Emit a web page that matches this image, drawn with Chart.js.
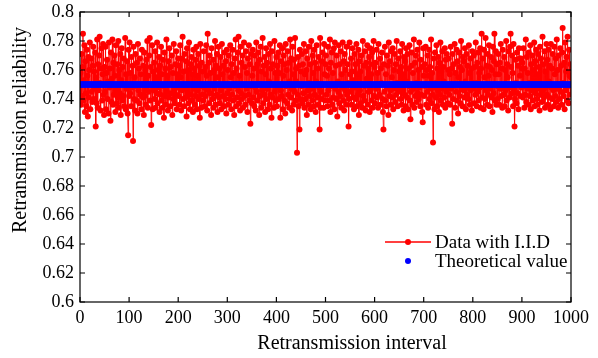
<!DOCTYPE html>
<html>
<head>
<meta charset="utf-8">
<script src="https://cdn.jsdelivr.net/npm/chart.js@4/dist/chart.umd.min.js"></script>
<style>
  html, body { margin: 0; padding: 0; background: #fff; }
  #wrap { width: 598px; height: 358px; }
</style>
</head>
<body>
<div id="wrap"><canvas id="chart"></canvas></div>
<script>
// Valores (em milésimos: 752 = 0.752), intervalos 1..1000
const reliabilityMilli = [
  758,736,771,742,762,785,739,753,777,731,766,744,735,774,756,728,769,741,760,779,
  733,750,768,745,738,763,776,740,759,747,772,721,755,737,781,734,764,746,770,783,
  751,732,761,775,739,757,778,743,729,762,
  745,776,733,758,767,740,752,730,779,748,761,725,772,738,754,781,736,765,743,770,
  756,731,777,746,737,764,741,780,734,760,744,771,729,753,775,739,762,742,768,735,
  750,782,733,757,747,766,730,715,774,742,
  779,744,758,735,769,748,763,711,776,740,755,732,771,749,739,765,730,778,746,761,
  737,768,743,757,733,774,750,741,763,729,772,742,760,736,767,747,780,734,756,745,
  770,782,739,762,722,749,777,733,759,746,
  765,740,773,734,755,744,779,737,760,748,769,731,763,743,776,739,757,734,767,749,
  727,772,742,761,736,781,745,756,732,766,741,775,750,735,762,744,770,729,758,740,
  778,747,737,764,743,773,733,757,748,768,
  742,763,736,777,755,732,768,746,783,740,759,735,771,749,741,766,728,775,744,760,
  737,779,750,733,764,743,769,739,757,731,774,747,761,736,767,742,776,733,756,746,
  771,740,763,727,778,749,734,765,743,759,
  739,773,748,735,762,742,777,756,732,785,746,765,737,770,744,758,729,775,750,740,
  767,734,760,747,780,736,763,743,771,731,755,776,741,761,737,769,746,733,778,757,
  742,763,735,772,749,740,766,730,774,744,
  760,736,770,747,740,777,755,733,764,743,774,739,758,729,768,749,781,735,761,741,
  772,746,783,737,756,732,776,744,765,740,770,734,750,779,742,762,736,773,747,758,
  731,768,743,777,739,764,723,749,771,737,
  756,774,741,761,735,770,748,732,779,745,764,739,772,750,729,767,742,776,734,759,
  746,782,737,763,743,769,731,757,775,740,765,747,733,771,752,736,778,743,761,727,
  773,741,764,750,734,780,745,758,739,769,
  735,763,748,772,740,758,777,727,746,766,742,775,733,756,770,739,764,730,778,749,
  760,737,773,743,765,734,752,781,741,768,747,732,776,757,736,767,745,782,739,761,
  752,703,743,769,735,763,719,774,740,759,
  749,771,737,764,744,778,734,757,740,773,760,729,768,746,736,776,751,742,764,733,
  780,747,739,770,758,735,774,743,765,731,752,777,741,761,736,769,748,719,782,734,
  745,766,740,772,750,734,778,757,739,764,
  770,743,756,735,776,746,761,739,781,731,765,749,772,736,758,741,775,733,779,747,
  763,740,770,728,752,745,777,737,764,742,773,734,757,748,779,739,766,732,771,746,
  760,736,776,743,764,751,721,740,779,757,
  745,768,736,759,775,741,753,733,771,748,764,740,778,735,757,743,774,729,766,746,
  759,737,770,750,734,780,742,763,739,773,749,732,765,754,777,736,761,745,769,731,
  775,747,757,739,772,734,764,780,742,762,
  737,765,747,774,741,758,734,778,750,743,768,736,761,751,772,740,731,719,764,745,
  776,739,757,735,770,748,763,729,779,742,766,746,736,773,755,741,775,733,760,747,
  771,738,764,743,780,751,735,768,745,759,
  748,773,740,762,736,778,746,757,732,769,743,766,735,775,752,741,771,733,761,749,
  777,739,726,745,763,772,736,758,747,781,734,765,742,770,751,738,774,744,760,740,
  779,748,735,767,743,762,731,724,775,756,
  742,764,749,776,736,760,745,770,734,756,774,740,762,747,781,737,758,743,710,768,
  748,733,772,751,741,777,735,761,746,769,731,765,743,779,739,759,747,773,736,762,
  752,741,775,734,767,745,771,748,737,760,
  768,743,757,736,776,747,761,723,771,740,764,749,778,734,758,745,774,739,766,730,
  755,772,742,762,737,780,748,760,735,769,746,766,741,775,752,733,771,743,763,748,
  740,777,758,736,768,746,761,732,773,751,
  747,770,737,762,743,779,751,735,765,745,772,739,758,748,775,734,761,785,741,768,
  749,733,774,755,740,782,746,763,736,771,743,756,777,735,762,747,769,741,760,731,
  776,744,766,785,739,757,773,736,764,749,
  740,771,757,736,765,747,778,742,761,734,774,749,743,769,735,760,746,780,739,764,
  755,732,773,748,741,776,785,762,744,770,758,735,778,747,721,740,767,751,737,772,
  744,763,733,775,768,756,742,768,748,761,
  765,741,775,749,734,761,743,781,738,769,747,758,736,772,751,742,777,733,764,746,
  770,739,760,748,779,735,766,744,774,740,757,736,771,747,762,732,776,743,768,750,
  738,783,746,764,741,773,734,759,748,778,
  743,767,736,774,752,741,763,733,778,748,761,740,771,746,735,776,757,742,768,738,
  781,747,760,734,770,749,740,775,745,763,736,772,789,751,742,765,733,779,746,759,
  769,739,783,749,737,774,756,743,764,755
];
const theoreticalValue = 0.75;
const xTicks = [0, 100, 200, 300, 400, 500, 600, 700, 800, 900, 1000];
const yTicks = [0.6, 0.62, 0.64, 0.66, 0.68, 0.7, 0.72, 0.74, 0.76, 0.78, 0.8];

const FONT = 'Liberation Serif, "Times New Roman", serif';

const dataPoints = reliabilityMilli.map((v, i) => ({ x: i + 1, y: v / 1000 }));
const theoryPoints = reliabilityMilli.map((v, i) => ({ x: i + 1, y: theoreticalValue }));

// Caixa, marcas internas, títulos dos eixos e legenda
const framePlugin = {
  id: 'frame',
  afterDraw(chart) {
    const c = chart.ctx;
    const a = chart.chartArea;
    const xs = chart.scales.x, ys = chart.scales.y;
    c.save();
    c.strokeStyle = '#000';
    c.lineWidth = 1.2;
    c.strokeRect(a.left, a.top, a.right - a.left, a.bottom - a.top);
    c.beginPath();
    xTicks.forEach(t => {
      const px = xs.getPixelForValue(t);
      c.moveTo(px, a.bottom); c.lineTo(px, a.bottom - 5);
      c.moveTo(px, a.top); c.lineTo(px, a.top + 5);
    });
    yTicks.forEach(t => {
      const py = ys.getPixelForValue(t);
      c.moveTo(a.left, py); c.lineTo(a.left + 5, py);
      c.moveTo(a.right, py); c.lineTo(a.right - 5, py);
    });
    c.stroke();

    // títulos
    c.fillStyle = '#000';
    c.font = '20px ' + FONT;
    c.textAlign = 'center';
    c.textBaseline = 'middle';
    c.fillText('Retransmission interval', 352, 344);
    c.save();
    c.translate(21, 130);
    c.rotate(-Math.PI / 2);
    c.fillText('Retransmission reliability', 0, 0);
    c.restore();

    // legenda
    const ds = chart.data.datasets;
    c.font = '19px ' + FONT;
    c.textAlign = 'left';
    c.strokeStyle = ds[1].borderColor;
    c.lineWidth = 1.5;
    c.beginPath(); c.moveTo(385, 242); c.lineTo(431, 242); c.stroke();
    c.fillStyle = ds[1].backgroundColor;
    c.beginPath(); c.arc(408, 242, 3, 0, Math.PI * 2); c.fill();
    c.fillStyle = ds[0].backgroundColor;
    c.beginPath(); c.arc(408, 261, 3, 0, Math.PI * 2); c.fill();
    c.fillStyle = '#000';
    c.fillText(ds[1].label, 435, 243);
    c.fillText(ds[0].label, 435, 262);
    c.restore();
  }
};

new Chart(document.getElementById('chart'), {
  type: 'line',
  data: {
    datasets: [
      {
        label: 'Theoretical value',
        data: theoryPoints,
        showLine: false,
        borderColor: '#0000ff',
        backgroundColor: '#0000ff',
        pointRadius: 3,
        pointBorderWidth: 0,
        order: 0
      },
      {
        label: 'Data with I.I.D',
        data: dataPoints,
        borderColor: '#ff0000',
        backgroundColor: '#ff0000',
        borderWidth: 0.9,
        pointRadius: 3,
        pointBorderWidth: 0,
        tension: 0,
        order: 1
      }
    ]
  },
  options: {
    responsive: true,
    maintainAspectRatio: false,
    animation: false,
    events: [],
    layout: { padding: { top: 12, right: 27, left: 0, bottom: 0 } },
    plugins: { legend: { display: false }, tooltip: { enabled: false } },
    scales: {
      x: {
        type: 'linear',
        min: 0,
        max: 1000,
        afterBuildTicks: s => { s.ticks = xTicks.map(v => ({ value: v })); },
        afterFit: s => { s.height = 56; s.paddingLeft = 0; s.paddingRight = 0; },
        grid: { display: false, drawTicks: false },
        border: { display: false },
        ticks: {
          color: '#000',
          font: { family: FONT, size: 18 },
          padding: 5,
          maxRotation: 0,
          callback: v => String(v)
        }
      },
      y: {
        min: 0.6,
        max: 0.8,
        afterBuildTicks: s => { s.ticks = yTicks.map(v => ({ value: v })); },
        afterFit: s => { s.width = 80; s.paddingTop = 0; s.paddingBottom = 0; },
        grid: { display: false, drawTicks: false },
        border: { display: false },
        ticks: {
          color: '#000',
          font: { family: FONT, size: 18 },
          padding: 6,
          callback: v => String(Number(v.toFixed(2)))
        }
      }
    }
  },
  plugins: [framePlugin]
});
</script>
</body>
</html>
